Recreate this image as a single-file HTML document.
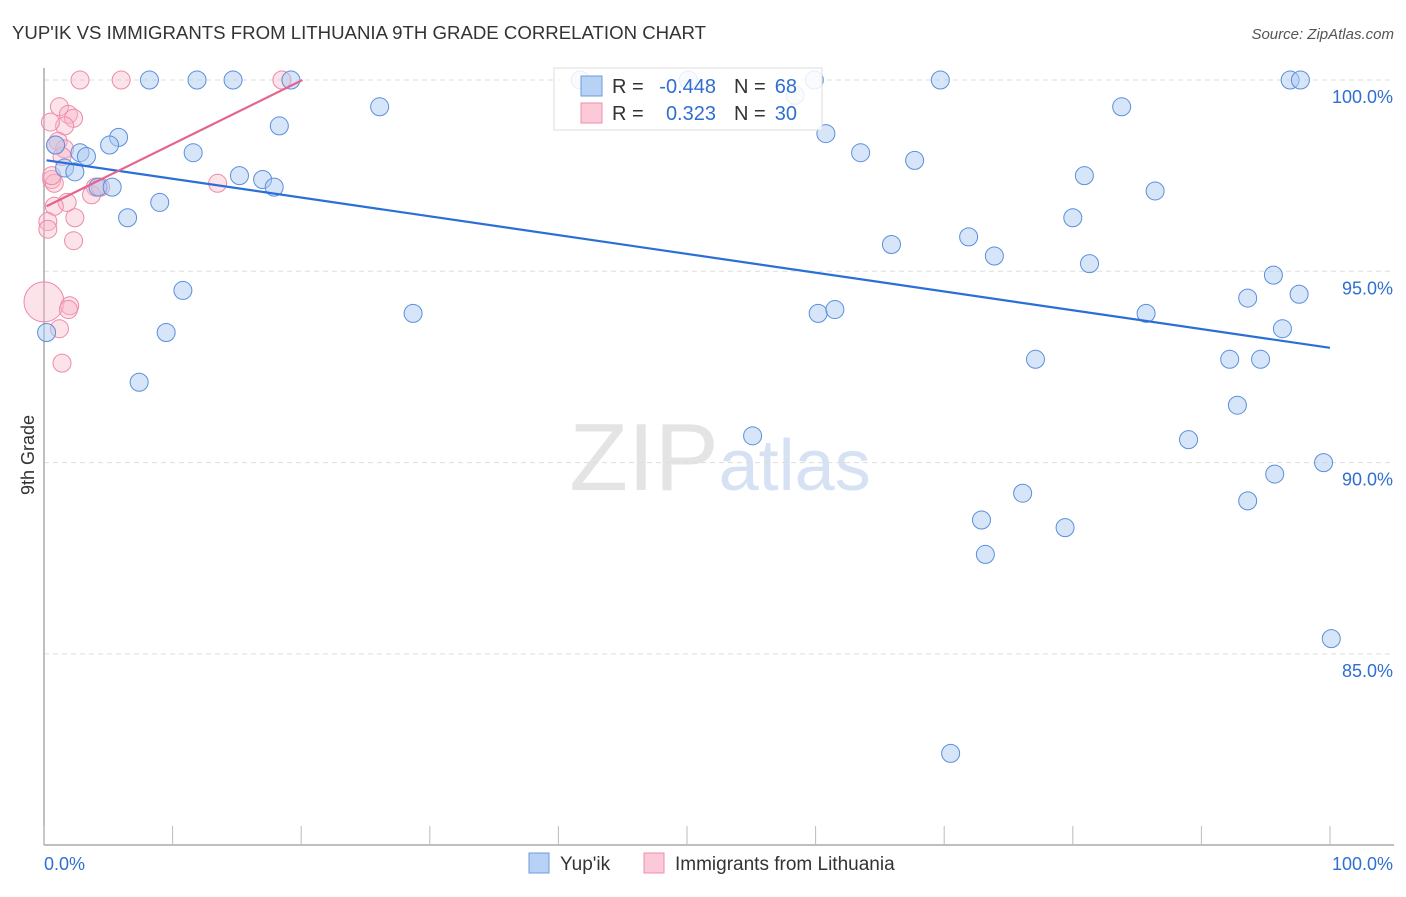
<!DOCTYPE html>
<html><head><meta charset="utf-8"><style>
body{margin:0;background:#fff;font-family:"Liberation Sans",sans-serif;}
svg text{font-family:"Liberation Sans",sans-serif;}
</style></head><body>
<svg id="c" width="1406" height="892">
<text x="12" y="39" font-size="18" fill="#333" textLength="694" lengthAdjust="spacingAndGlyphs">YUP'IK VS IMMIGRANTS FROM LITHUANIA 9TH GRADE CORRELATION CHART</text>
<text x="1394" y="39" font-size="15" fill="#555" font-style="italic" text-anchor="end">Source: ZipAtlas.com</text>
<text x="720" y="490" font-size="96" fill="#e4e4e4" font-family="Liberation Serif" text-anchor="middle">ZIP<tspan fill="#d6e2f4" font-family="Liberation Sans" font-size="72">atlas</tspan></text>
<g id="grid"></g><g id="pts"></g><g id="lines"></g>
<text transform="translate(34,455) rotate(-90)" font-size="18" fill="#333" text-anchor="middle">9th Grade</text>
<g>
<rect x="554" y="68" width="268" height="62" fill="#fff" fill-opacity="0.85" stroke="#ddd"/>
<rect x="581" y="76" width="21" height="20" fill="#b7d2f5" stroke="#6d9be0"/>
<rect x="581" y="103" width="21" height="20" fill="#fbc9d8" stroke="#ef8fab"/>
<text x="612" y="93" font-size="20" fill="#333">R =</text>
<text x="716" y="93" font-size="20" fill="#2f6fd1" text-anchor="end">-0.448</text>
<text x="734" y="93" font-size="20" fill="#333">N =</text>
<text x="797" y="93" font-size="20" fill="#2f6fd1" text-anchor="end">68</text>
<text x="612" y="120" font-size="20" fill="#333">R =</text>
<text x="716" y="120" font-size="20" fill="#2f6fd1" text-anchor="end">0.323</text>
<text x="734" y="120" font-size="20" fill="#333">N =</text>
<text x="797" y="120" font-size="20" fill="#2f6fd1" text-anchor="end">30</text>
</g>
<g>
<rect x="529" y="853" width="20" height="20" fill="#b7d2f5" stroke="#6d9be0"/>
<text x="560" y="870" font-size="19" fill="#333">Yup'ik</text>
<rect x="644" y="853" width="20" height="20" fill="#fbc9d8" stroke="#ef8fab"/>
<text x="675" y="870" font-size="19" fill="#333">Immigrants from Lithuania</text>
</g>
</svg>
<script>
const yTicks=[100,95,90,85];
const yTickLabels=["100.0%","95.0%","90.0%","85.0%"];
const xTickLabels=["0.0%","100.0%"];
const yupikX=[8.2,11.9,14.7,19.2,41.7,50.1,59.9,69.7,96.9,97.7,26.1,18.3,5.8,5.1,0.9,2.8,3.3,11.6,1.6,2.4,4.2,5.3,15.2,17.0,17.9,6.5,9.0,10.8,9.5,7.4,0.2,28.7,60.8,63.5,67.7,83.8,80.9,86.4,80.0,65.9,71.9,73.9,81.3,60.2,61.5,85.7,95.6,93.6,97.6,96.3,77.1,92.2,94.6,92.8,55.1,89.0,99.5,95.7,76.1,93.6,72.9,79.4,73.2,100.1,70.5,58.4];
const yupikY=[100,100,100,100,100,100,100,100,100,100,99.3,98.8,98.5,98.3,98.3,98.1,98.0,98.1,97.7,97.6,97.2,97.2,97.5,97.4,97.2,96.4,96.8,94.5,93.4,92.1,93.4,93.9,98.6,98.1,97.9,99.3,97.5,97.1,96.4,95.7,95.9,95.4,95.2,93.9,94.0,93.9,94.9,94.3,94.4,93.5,92.7,92.7,92.7,91.5,90.7,90.6,90.0,89.7,89.2,89.0,88.5,88.3,87.6,85.4,82.4,99.6];
const lithX=[2.8,6.0,18.5,1.2,1.9,2.3,1.6,1.1,1.6,1.4,0.6,0.8,0.6,4.0,3.7,13.5,1.8,0.8,2.4,0.3,0.3,2.3,0.0,2.0,1.9,1.2,1.4,0.9,0.5,4.4];
const lithY=[100,100,100,99.3,99.1,99.0,98.8,98.4,98.2,98.0,97.4,97.3,97.5,97.2,97.0,97.3,96.8,96.7,96.4,96.3,96.1,95.8,94.2,94.1,94.0,93.5,92.6,98.3,98.9,97.2];
const lithR=[9,9,9,9,9,9,9,9,9,9,9,9,9,9,9,9,9,9,9,9,9,9,20,9,9,9,9,9,9,9];
const yupikTrend=[[0.2,97.9],[100,93.0]];
const lithTrend=[[0.2,96.7],[20.1,100]];
const X0=44,X1=1330,Y100=80,PX5=191.3;
const sx=v=>X0+(X1-X0)*v/100;
const sy=v=>Y100+(100-v)/5*PX5;
const NS="http://www.w3.org/2000/svg";
function mk(t,a,p){const e=document.createElementNS(NS,t);for(const k in a)e.setAttribute(k,a[k]);p.appendChild(e);return e;}
const g=document.getElementById('grid');
yTicks.forEach((t,i)=>{
 const l=mk('line',{x1:44,x2:1394,y1:sy(t),y2:sy(t),stroke:'#ddd','stroke-dasharray':'5,4'},g);
 
 
 const tx=mk('text',{x:1393,y:sy(t)+23,'font-size':18,fill:'#2f6fd1','text-anchor':'end'},g);
 tx.textContent=yTickLabels[i];
 
 
});
const ax=mk('line',{x1:44,x2:44,y1:68,y2:845,stroke:'#aaa','stroke-width':1.5},g);


const bx=mk('line',{x1:44,x2:1394,y1:845,y2:845,stroke:'#aaa','stroke-width':1.5},g);


for(let i=0;i<=10;i++){
 const t=mk('line',{x1:sx(i*10),x2:sx(i*10),y1:826,y2:845,stroke:'#bbb'},g);
 
 
}
[[0,'start'],[100,'end']].forEach((d,i)=>{
 const t=mk('text',{x:i?1393:44,y:870,'font-size':18,fill:'#2f6fd1','text-anchor':d[1]},g);
 t.textContent=xTickLabels[i];
 
 
});
const p=document.getElementById('pts');
lithX.forEach((v,i)=>{
 const c=mk('circle',{cx:sx(v),cy:sy(lithY[i]),r:lithR[i],fill:'#f7b6c9','fill-opacity':0.4,stroke:'#ee8aa8','stroke-width':1},p);
 
 
});
yupikX.forEach((v,i)=>{
 const c=mk('circle',{cx:sx(v),cy:sy(yupikY[i]),r:9,fill:'#aecbf2','fill-opacity':0.5,stroke:'#5b8fdc','stroke-width':1},p);
 
 
});
const L=document.getElementById('lines');
const t1=mk('line',{x1:sx(yupikTrend[0][0]),y1:sy(yupikTrend[0][1]),x2:sx(yupikTrend[1][0]),y2:sy(yupikTrend[1][1]),stroke:'#2a6fd6','stroke-width':2.2},L);


const t2=mk('line',{x1:sx(lithTrend[0][0]),y1:sy(lithTrend[0][1]),x2:sx(lithTrend[1][0]),y2:sy(lithTrend[1][1]),stroke:'#e3648c','stroke-width':2.2},L);


</script>
</body></html>
